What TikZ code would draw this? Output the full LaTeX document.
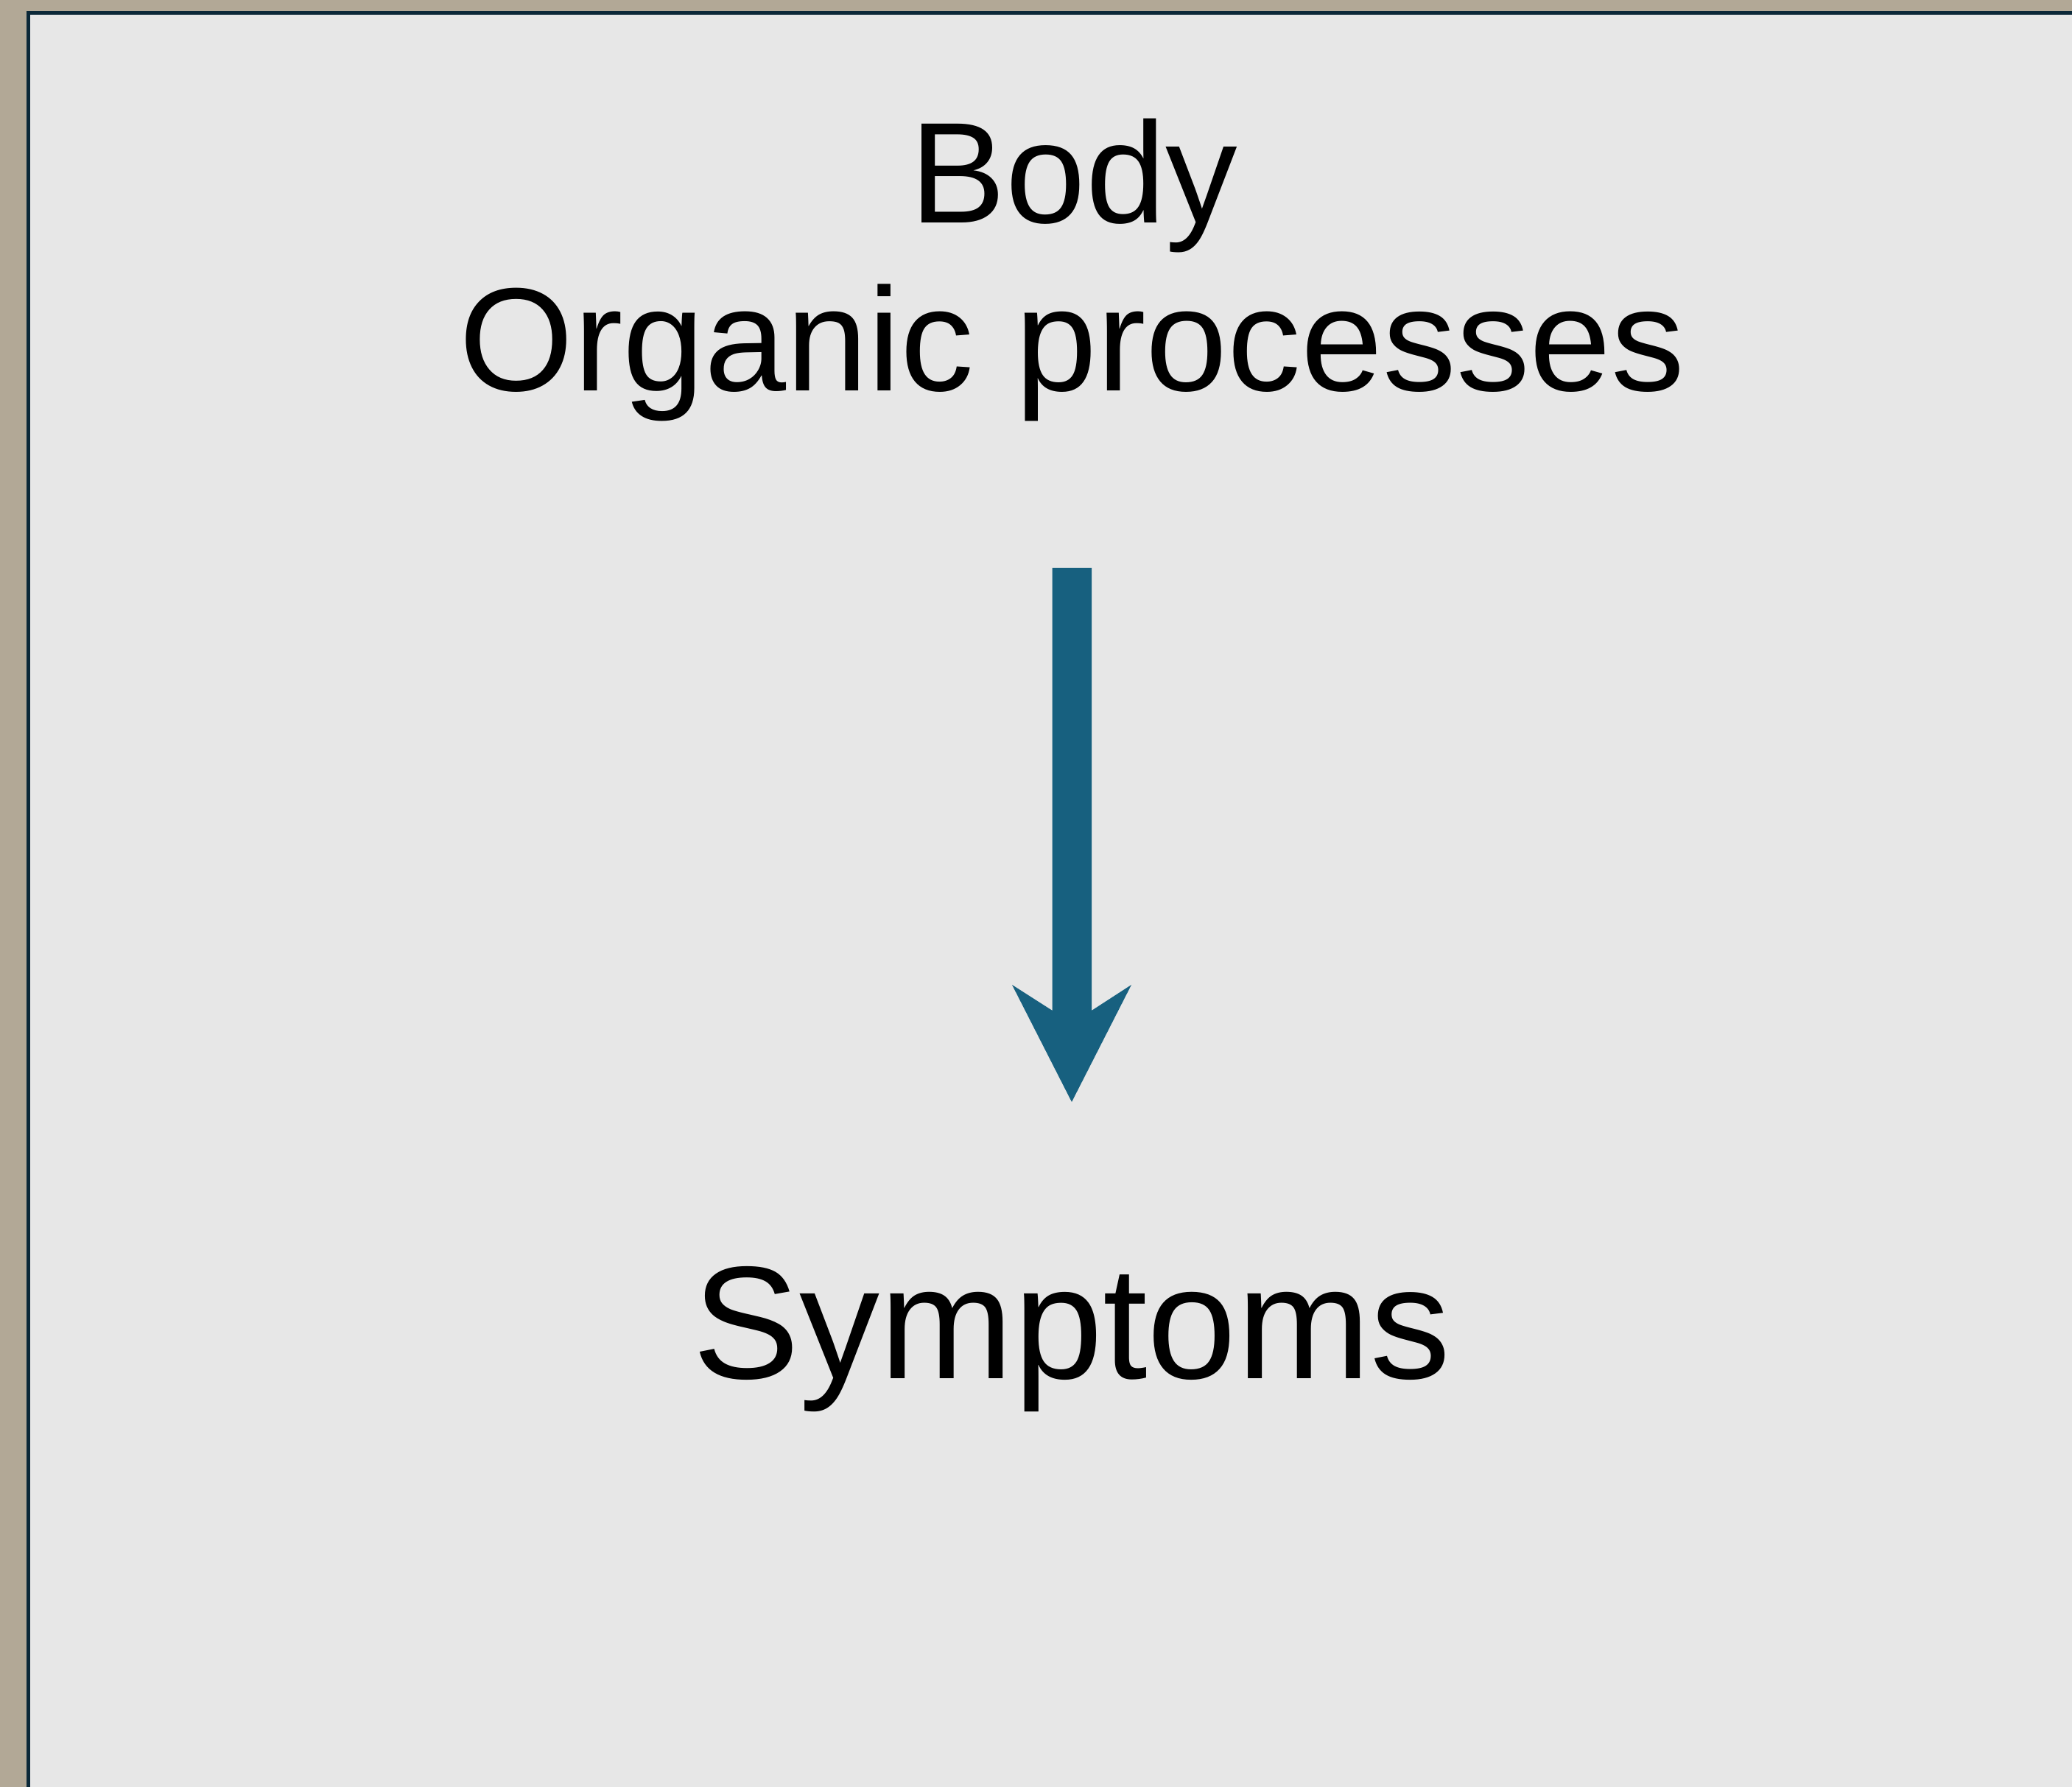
\documentclass[tikz,border=0pt]{standalone}
\usepackage{fontspec}
\setmainfont{Liberation Sans}
\definecolor{bgbeige}{HTML}{B2A896}
\definecolor{panelgray}{HTML}{E7E7E7}
\definecolor{panelborder}{HTML}{0B2838}
\definecolor{arrowblue}{HTML}{17607F}
\begin{document}
\begin{tikzpicture}[
  x=1cm,y=1cm,
  bigtext/.style={inner sep=0pt, anchor=base, text=black, font=\fontsize{55.5}{66}\selectfont},
  orgtext/.style={inner sep=0pt, anchor=base, text=black, font=\fontsize{56.8}{66}\selectfont},
  symtext/.style={inner sep=0pt, anchor=base, text=black, font=\fontsize{62}{72}\selectfont},
  blockarrow/.style={fill=arrowblue, draw=none}
]
% canvas 28.13 x 24.26 cm, 1px = 0.01cm, y measured from top
\useasboundingbox (0,0) rectangle (28.13,24.26);
\fill[bgbeige] (0,0) rectangle (28.13,24.26);
\filldraw[fill=panelgray, draw=panelborder, line width=0.05cm] (0.385,-1) rectangle (29,24.26-0.175);

\node[bigtext] (body) at (14.58,24.26-3.03) {Body};
\node[orgtext] (organic) at (14.56,24.26-5.31) {Organic processes};
\node[symtext] (symptoms) at (14.55,24.26-18.72) {Symptoms};

\coordinate (atip) at (14.55,24.26-14.96);
\fill[blockarrow]
  (14.287,24.26-7.71) -- (14.82,24.26-7.71) -- (14.82,24.26-13.72)
  -- (15.36,24.26-13.37) -- (atip) -- (13.74,24.26-13.37)
  -- (14.287,24.26-13.72) -- cycle;
\end{tikzpicture}
\end{document}
